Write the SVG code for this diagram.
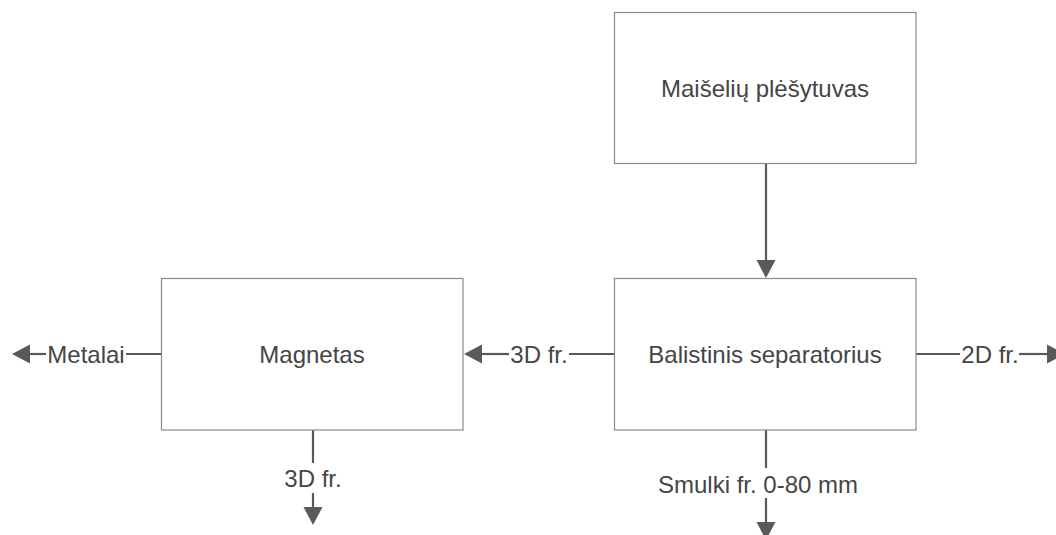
<svg xmlns="http://www.w3.org/2000/svg" width="1056" height="535" viewBox="0 0 1056 535">
<style>
.box{fill:#fff;stroke:#8a8a8a;stroke-width:1.2}
.lbl{font-family:"Liberation Sans",Arial,sans-serif;font-size:24px;fill:#454545;text-anchor:middle}
.ln{stroke:#595959;stroke-width:2.2;fill:none}
.ah{fill:#595959}
</style>
<rect width="1056" height="535" fill="#fff"/>
<g id="connectors">
  <line class="ln" x1="766" y1="164" x2="766" y2="262"/>
  <polygon class="ah" points="756.5,260 775.5,260 766,278"/>
  <line class="ln" x1="161" y1="354" x2="126" y2="354"/>
  <line class="ln" x1="46" y1="354" x2="28" y2="354"/>
  <polygon class="ah" points="30,344.5 30,363.5 12,354"/>
  <text class="lbl" x="86" y="362.5">Metalai</text>
  <line class="ln" x1="614" y1="354" x2="569" y2="354"/>
  <line class="ln" x1="509" y1="354" x2="480" y2="354"/>
  <polygon class="ah" points="482,344.5 482,363.5 464,354"/>
  <text class="lbl" x="539" y="362.5">3D fr.</text>
  <line class="ln" x1="916" y1="354" x2="960" y2="354"/>
  <line class="ln" x1="1019" y1="354" x2="1049" y2="354"/>
  <polygon class="ah" points="1047,344.5 1047,363.5 1065,354"/>
  <text class="lbl" x="990" y="362.5">2D fr.</text>
  <line class="ln" x1="313" y1="430" x2="313" y2="463"/>
  <line class="ln" x1="313" y1="493" x2="313" y2="509"/>
  <polygon class="ah" points="303.5,507 322.5,507 313,525"/>
  <text class="lbl" x="313" y="486.5">3D fr.</text>
  <line class="ln" x1="766" y1="430" x2="766" y2="468"/>
  <line class="ln" x1="766" y1="498" x2="766" y2="524"/>
  <polygon class="ah" points="756.5,522 775.5,522 766,540"/>
  <text class="lbl" x="758" y="493">Smulki fr. 0-80 mm</text>
</g>
<g id="node-plesytuvas">
  <rect class="box" x="614.5" y="12.5" width="301.5" height="151"/>
  <text class="lbl" x="765" y="96.5">Maišelių plėšytuvas</text>
</g>
<g id="node-separatorius">
  <rect class="box" x="614.5" y="278.5" width="301.5" height="151.5"/>
  <text class="lbl" x="765" y="362.5">Balistinis separatorius</text>
</g>
<g id="node-magnetas">
  <rect class="box" x="161.5" y="278.5" width="301.5" height="151.5"/>
  <text class="lbl" x="312" y="362.5">Magnetas</text>
</g>
</svg>
